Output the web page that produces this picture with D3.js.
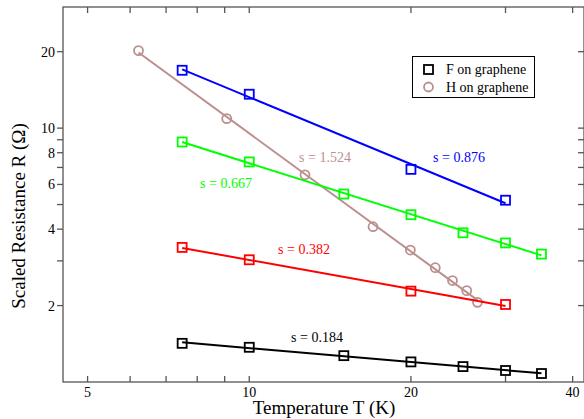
<!doctype html>
<meta charset='utf-8'>
<title>scaled resistance</title>
<style type="text/css">
	body { margin:0; background:white; }
	svg { display:block; }
	text { font-family:"Liberation Serif", "DejaVu Serif", serif; }
</style>
<div id='container'></div>
<script src="https://cdnjs.cloudflare.com/ajax/libs/d3/7.8.5/d3.min.js" charset="utf-8"></script>
<script>

	// data (T in K, R in ohm)
	var blueT   = [7.5, 10, 20, 30]
	var blueR   = [16.9, 13.6, 6.88, 5.2]
	var greenT  = [7.5, 10, 15, 20, 25, 30, 35]
	var greenR  = [8.82, 7.36, 5.5, 4.56, 3.87, 3.53, 3.19]
	var redT    = [7.5, 10, 20, 30]
	var redR    = [3.39, 3.03, 2.28, 2.02]
	var blackT  = [7.5, 10, 15, 20, 25, 30, 35]
	var blackR  = [1.42, 1.37, 1.27, 1.2, 1.15, 1.11, 1.08]
	var brownT  = [6.22, 9.08, 12.7, 17.0, 19.95, 22.2, 23.9, 25.4, 26.6]
	var brownR  = [20.2, 10.9, 6.55, 4.09, 3.31, 2.82, 2.51, 2.29, 2.06]

	var slopeText = ['s = 1.524', 's = 0.876', 's = 0.667', 's = 0.382', 's = 0.184']

	var xTicks = [5, 6, 7, 8, 9, 10, 20, 30, 40]
	var xLabels = [5, 10, 20, 40]
	var yTicks = [2, 3, 4, 5, 6, 7, 8, 9, 10, 20]
	var yLabels = [2, 4, 6, 8, 10, 20]

	var legendNames = ['F on graphene', 'H on graphene']

	var W = 584, H = 419
	var m = {left:63, right:584, top:7, bottom:382}

	var x = d3.scaleLog().domain([4.5, 42]).range([m.left, m.right])
	var y = d3.scaleLog().domain([1, 30]).range([m.bottom, m.top])

	var svg = d3.select('#container').append('svg')
		.attr('width', W).attr('height', H)

	var series = [
		{T:brownT, R:brownR, color:'#bc8f8f', mark:'circle', label:slopeText[0], lx:325, ly:162},
		{T:blueT,  R:blueR,  color:'#0000ff', mark:'square', label:slopeText[1], lx:459, ly:162},
		{T:greenT, R:greenR, color:'#00ff00', mark:'square', label:slopeText[2], lx:226, ly:188},
		{T:redT,   R:redR,   color:'#ff0000', mark:'square', label:slopeText[3], lx:304, ly:254},
		{T:blackT, R:blackR, color:'#000000', mark:'square', label:slopeText[4], lx:317, ly:342}
	]

	// power-law fit in log-log space
	function fit(T, R) {
		var lx = T.map(Math.log), ly = R.map(Math.log)
		var mx = d3.mean(lx), my = d3.mean(ly)
		var num = d3.sum(lx, function(v, i){ return (v - mx) * (ly[i] - my) })
		var den = d3.sum(lx, function(v){ return (v - mx) * (v - mx) })
		var b = num / den, a = my - b * mx
		return function(t) { return Math.exp(a + b * Math.log(t)) }
	}

	var plot = svg.append('g')

	series.forEach(function(s) {
		var f = fit(s.T, s.R)
		var ends = d3.extent(s.T)
		plot.append('line')
			.attr('x1', x(ends[0])).attr('y1', y(f(ends[0])))
			.attr('x2', x(ends[1])).attr('y2', y(f(ends[1])))
			.attr('stroke', s.color).attr('stroke-width', 2)

		var pts = plot.selectAll(null).data(d3.zip(s.T, s.R)).enter()
		if (s.mark == 'circle') {
			pts.append('circle')
				.attr('cx', function(d){ return x(d[0]) })
				.attr('cy', function(d){ return y(d[1]) })
				.attr('r', 4.5)
				.attr('fill', 'none').attr('stroke', s.color).attr('stroke-width', 1.8)
		} else {
			pts.append('rect')
				.attr('x', function(d){ return x(d[0]) - 4.5 })
				.attr('y', function(d){ return y(d[1]) - 4.5 })
				.attr('width', 9).attr('height', 9)
				.attr('fill', 'none').attr('stroke', s.color).attr('stroke-width', 1.8)
		}

		plot.append('text')
			.attr('x', s.lx).attr('y', s.ly)
			.attr('text-anchor', 'middle')
			.attr('font-size', '14px')
			.attr('fill', s.color)
			.text(s.label)
	})

	// frame + ticks
	var frame = svg.append('g').attr('stroke', '#555').attr('stroke-width', 1.3)
	frame.append('rect')
		.attr('x', m.left).attr('y', m.top)
		.attr('width', m.right - m.left).attr('height', m.bottom - m.top)
		.attr('fill', 'none')

	xTicks.forEach(function(t) {
		frame.append('line').attr('x1', x(t)).attr('x2', x(t)).attr('y1', m.bottom).attr('y2', m.bottom - 6)
		frame.append('line').attr('x1', x(t)).attr('x2', x(t)).attr('y1', m.top).attr('y2', m.top + 6)
	})
	yTicks.forEach(function(t) {
		frame.append('line').attr('y1', y(t)).attr('y2', y(t)).attr('x1', m.left).attr('x2', m.left - 6)
		frame.append('line').attr('y1', y(t)).attr('y2', y(t)).attr('x1', m.right).attr('x2', m.right - 6)
	})

	svg.selectAll('.xlab').data(xLabels).enter().append('text')
		.attr('class', 'xlab')
		.attr('x', function(d){ return x(d) }).attr('y', 397)
		.attr('text-anchor', 'middle').attr('font-size', '14px')
		.text(function(d){ return d })

	svg.selectAll('.ylab').data(yLabels).enter().append('text')
		.attr('class', 'ylab')
		.attr('x', m.left - 8).attr('y', function(d){ return y(d) + 5 })
		.attr('text-anchor', 'end').attr('font-size', '14px')
		.text(function(d){ return d })

	svg.append('text')
		.attr('x', 324).attr('y', 414)
		.attr('text-anchor', 'middle').attr('font-size', '19px')
		.text('Temperature T (K)')

	svg.append('text')
		.attr('transform', 'translate(25,216) rotate(-90)')
		.attr('text-anchor', 'middle').attr('font-size', '19px')
		.text('Scaled Resistance R (\u03a9)')

	// legend
	var lg = svg.append('g')
	lg.append('rect')
		.attr('x', 412.5).attr('y', 56.5).attr('width', 122).attr('height', 41)
		.attr('fill', 'white').attr('stroke', 'black').attr('stroke-width', 1)
	lg.append('rect')
		.attr('x', 424).attr('y', 65).attr('width', 9).attr('height', 9)
		.attr('fill', 'none').attr('stroke', 'black').attr('stroke-width', 1.8)
	lg.append('circle')
		.attr('cx', 428.5).attr('cy', 87).attr('r', 4.5)
		.attr('fill', 'none').attr('stroke', '#bc8f8f').attr('stroke-width', 1.8)
	lg.selectAll('.lgt').data(legendNames).enter().append('text')
		.attr('x', 446).attr('y', function(d, i){ return 74 + i * 17.5 })
		.attr('font-size', '14px')
		.text(function(d){ return d })

</script>
